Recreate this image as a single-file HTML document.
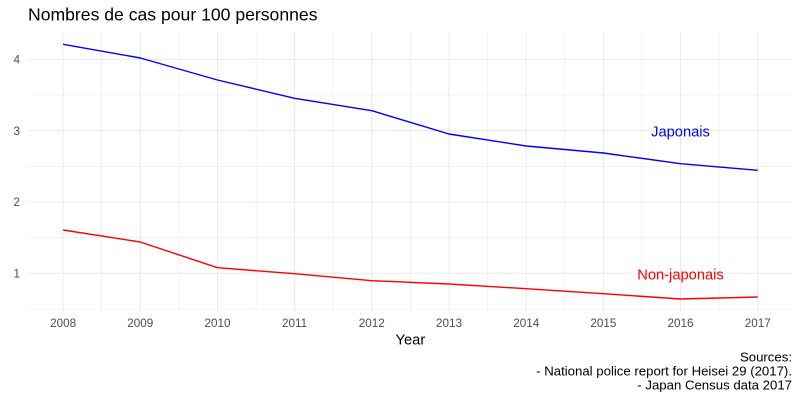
<!DOCTYPE html>
<html><head><meta charset="utf-8"><style>
html,body{margin:0;padding:0;background:#fff;}
svg{display:block;font-family:"Liberation Sans",Arial,sans-serif;}
</style></head><body>
<svg width="800" height="400" viewBox="0 0 800 400" xmlns="http://www.w3.org/2000/svg">
<rect width="800" height="400" fill="#fff"/>
<!-- minor grid -->
<g stroke="#ebebeb" stroke-width="0.6" fill="none">
<line x1="28.3" x2="792.5" y1="309" y2="309"/>
<line x1="28.3" x2="792.5" y1="237.7" y2="237.7"/>
<line x1="28.3" x2="792.5" y1="166.3" y2="166.3"/>
<line x1="28.3" x2="792.5" y1="95" y2="95"/>
<line x1="101.7" x2="101.7" y1="32" y2="311"/>
<line x1="178.9" x2="178.9" y1="32" y2="311"/>
<line x1="256.1" x2="256.1" y1="32" y2="311"/>
<line x1="333.2" x2="333.2" y1="32" y2="311"/>
<line x1="410.4" x2="410.4" y1="32" y2="311"/>
<line x1="487.6" x2="487.6" y1="32" y2="311"/>
<line x1="564.8" x2="564.8" y1="32" y2="311"/>
<line x1="641.9" x2="641.9" y1="32" y2="311"/>
<line x1="719.1" x2="719.1" y1="32" y2="311"/>
</g>
<!-- major grid -->
<g stroke="#ebebeb" stroke-width="1.1" fill="none">
<line x1="28.3" x2="792.5" y1="273.3" y2="273.3"/>
<line x1="28.3" x2="792.5" y1="202" y2="202"/>
<line x1="28.3" x2="792.5" y1="130.6" y2="130.6"/>
<line x1="28.3" x2="792.5" y1="59.3" y2="59.3"/>
<line x1="63.1" x2="63.1" y1="32" y2="311"/>
<line x1="140.3" x2="140.3" y1="32" y2="311"/>
<line x1="217.5" x2="217.5" y1="32" y2="311"/>
<line x1="294.6" x2="294.6" y1="32" y2="311"/>
<line x1="371.8" x2="371.8" y1="32" y2="311"/>
<line x1="449" x2="449" y1="32" y2="311"/>
<line x1="526.2" x2="526.2" y1="32" y2="311"/>
<line x1="603.4" x2="603.4" y1="32" y2="311"/>
<line x1="680.5" x2="680.5" y1="32" y2="311"/>
<line x1="757.7" x2="757.7" y1="32" y2="311"/>
</g>
<!-- series -->
<polyline fill="none" stroke="#0000ff" stroke-width="1.4" stroke-linejoin="round" points="63.1,44.3 140.3,58 217.5,80 294.6,98.3 371.8,110.7 449,134 526.2,146 603.4,153 680.5,163.7 757.7,170.3"/>
<polyline fill="none" stroke="#ff0000" stroke-width="1.4" stroke-linejoin="round" points="63.1,230 140.3,242 217.5,267.7 294.6,273.7 371.8,280.7 449,284 526.2,288.7 603.4,293.7 680.5,299 757.7,297"/>
<!-- labels -->
<text x="680.5" y="136.3" font-size="14.7" fill="#0000ff" text-anchor="middle">Japonais</text>
<text x="680.5" y="279.3" font-size="14.7" fill="#ff0000" text-anchor="middle">Non-japonais</text>
<!-- y ticks -->
<g font-size="11.7" fill="#4d4d4d" text-anchor="end">
<text x="20" y="63.5">4</text>
<text x="20" y="134.8">3</text>
<text x="20" y="206.2">2</text>
<text x="20" y="277.5">1</text>
</g>
<!-- x ticks -->
<g font-size="11.7" fill="#4d4d4d" text-anchor="middle">
<text x="63.1" y="327">2008</text>
<text x="140.3" y="327">2009</text>
<text x="217.5" y="327">2010</text>
<text x="294.6" y="327">2011</text>
<text x="371.8" y="327">2012</text>
<text x="449" y="327">2013</text>
<text x="526.2" y="327">2014</text>
<text x="603.4" y="327">2015</text>
<text x="680.5" y="327">2016</text>
<text x="757.7" y="327">2017</text>
</g>
<text x="410.4" y="344.5" font-size="14.7" fill="#000" text-anchor="middle">Year</text>
<text x="28" y="20.5" font-size="17.6" fill="#000">Nombres de cas pour 100 personnes</text>
<g font-size="13.2" fill="#000" text-anchor="end">
<text x="792" y="361.3">Sources:</text>
<text x="792" y="375.5">- National police report for Heisei 29 (2017).</text>
<text x="792" y="389.5">- Japan Census data 2017</text>
</g>
</svg>
</body></html>
